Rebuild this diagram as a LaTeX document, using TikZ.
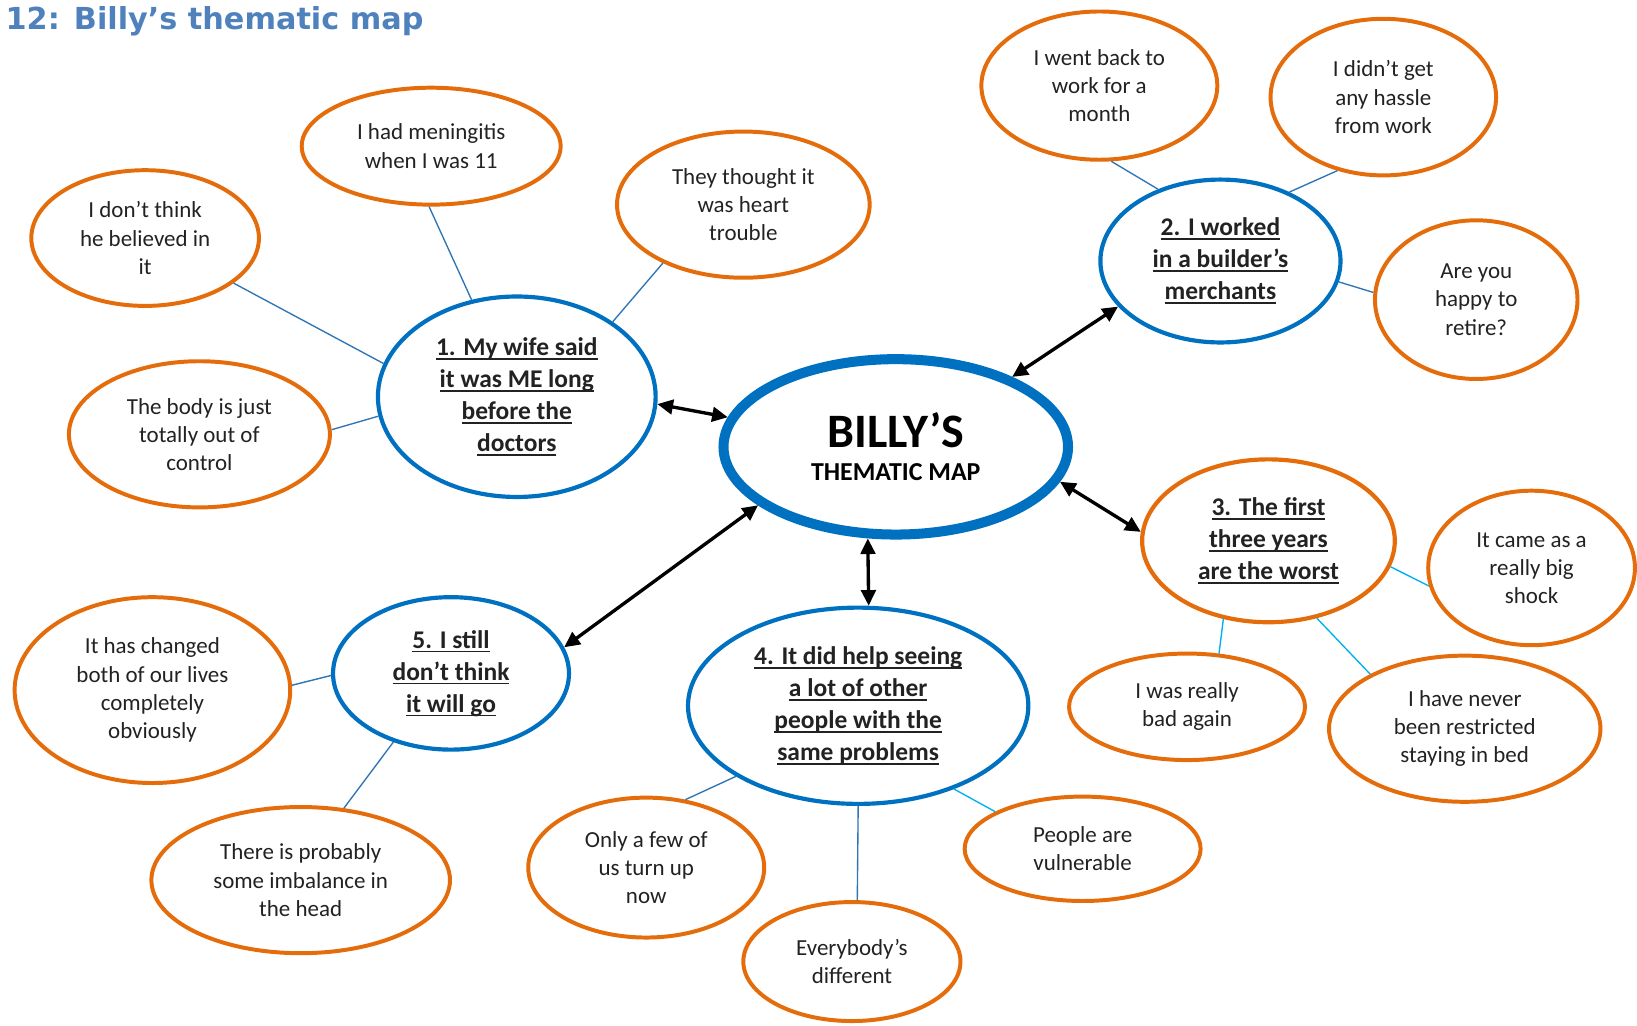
\documentclass[tikz,border=0pt]{standalone}
\usepackage{fontspec}
\setmainfont{Carlito}
\newfontfamily\titlefont{DejaVu Sans}
\usetikzlibrary{shapes.geometric}
\usetikzlibrary{arrows.meta}
\definecolor{mapblue}{HTML}{0070C0}
\definecolor{maporange}{HTML}{E46C0A}
\definecolor{spokeblue}{HTML}{2E75B6}
\definecolor{spokecyan}{HTML}{00B0F0}
\definecolor{titleblue}{HTML}{4F81BD}
\definecolor{inkgrey}{HTML}{222222}
\newcommand\ulw[1]{\setbox0\hbox{#1}\rlap{\rule[-2pt]{\wd0}{0.8pt}}\box0}

\begin{document}
\begin{tikzpicture}[x=0.5pt,y=-0.5pt,
  leaf/.style={draw=maporange,line width=1.9pt,ellipse,inner sep=0pt,align=center,text=inkgrey,font=\fontsize{11}{13.5}\selectfont},
  theme/.style={draw=mapblue,line width=2pt,ellipse,inner sep=0pt,align=center,text=inkgrey,font=\bfseries\fontsize{12.2}{15.3}\selectfont},
  hub/.style={draw=mapblue,line width=4.8pt,ellipse,inner sep=0pt,align=center,text=black},
  spoke/.style={draw=spokeblue,line width=0.65pt},
  spokec/.style={draw=spokecyan,line width=0.65pt},
  twoway/.style={line width=1.6pt,{Triangle[length=7.5pt,width=7pt]}-{Triangle[length=7.5pt,width=7pt]}}]
  \useasboundingbox (0,0) rectangle (1568,982);
  \node[anchor=base west,inner sep=0pt,text=titleblue,font=\titlefont\bfseries\fontsize{14.5}{17}\selectfont] (title) at (5,28) {12: Billy’s thematic map};
  % centre
  \node[hub,minimum width=165pt,minimum height=84pt] (0) at (858,428)
    {{\bfseries\fontsize{23}{26}\selectfont BILLY’S}\\[4pt]{\bfseries\fontsize{12.4}{14}\selectfont THEMATIC MAP}};
  % themes
  \node[theme,minimum width=133pt,minimum height=96pt] (1) at (495,380)
    {\ulw{1. My wife said}\\\ulw{it was ME long}\\\ulw{before the}\\\ulw{doctors}};
  \node[theme,minimum width=115pt,minimum height=78pt] (2) at (1169,250)
    {\ulw{2. I worked}\\\ulw{in a builder’s}\\\ulw{merchants}};
  \node[theme,draw=maporange,minimum width=121pt,minimum height=78pt] (3) at (1215,518)
    {\ulw{3. The first}\\\ulw{three years}\\\ulw{are the worst}};
  \node[theme,minimum width=163pt,minimum height=94pt] (4) at (822,676)
    {\ulw{4. It did help seeing}\\\ulw{a lot of other}\\\ulw{people with the}\\\ulw{same problems}};
  \node[theme,minimum width=113pt,minimum height=73pt] (5) at (432,645)
    {\ulw{5. I still}\\\ulw{don’t think}\\\ulw{it will go}};
  % leaves of 1
  \node[leaf,minimum width=124pt,minimum height=56pt] (1a) at (413,140) {I had meningitis\\when I was 11};
  \node[leaf,minimum width=109pt,minimum height=65pt] (1b) at (139,228) {I don’t think\\he believed in\\it};
  \node[leaf,minimum width=121pt,minimum height=70pt] (1c) at (712,196) {They thought it\\was heart\\trouble};
  \node[leaf,minimum width=125pt,minimum height=70pt] (1d) at (191,416) {The body is just\\totally out of\\control};
  % leaves of 2
  \node[leaf,minimum width=113pt,minimum height=71pt] (2a) at (1053,82) {I went back to\\work for a\\month};
  \node[leaf,minimum width=108pt,minimum height=75pt] (2b) at (1325,93) {I didn’t get\\any hassle\\from work};
  \node[leaf,minimum width=97pt,minimum height=76pt] (2c) at (1414,287) {Are you\\happy to\\retire?};
  % leaves of 3
  \node[leaf,minimum width=99pt,minimum height=74pt] (3a) at (1467,544) {It came as a\\really big\\shock};
  \node[leaf,minimum width=113pt,minimum height=51pt] (3b) at (1137,677) {I was really\\bad again};
  \node[leaf,minimum width=130pt,minimum height=70pt] (3c) at (1403,698) {I have never\\been restricted\\staying in bed};
  % leaves of 4
  \node[leaf,minimum width=113pt,minimum height=67pt] (4a) at (619,831) {Only a few of\\us turn up\\now};
  \node[leaf,minimum width=104pt,minimum height=57pt] (4b) at (816,921) {Everybody’s\\different};
  \node[leaf,minimum width=113pt,minimum height=50pt] (4c) at (1037,813) {People are\\vulnerable};
  % leaves of 5
  \node[leaf,minimum width=132pt,minimum height=89pt] (5a) at (146,661) {It has changed\\both of our lives\\completely\\obviously};
  \node[leaf,minimum width=143pt,minimum height=70pt] (5b) at (288,843) {There is probably\\some imbalance in\\the head};
  % spokes
  \draw[spoke](1.115)--(1a.268);
  \draw[spoke](1.166)--(1b.333);
  \draw[spoke](1.38)--(1c.216);
  \draw[spoke](1.188)--(1d.2);
  \draw[spoke](2.131)--(2a.279);
  \draw[spoke](2.45)--(2b.238);
  \draw[spoke](2.350)--(2c.176);
  \draw[spokec](3.348)--(3a.190);
  \draw[spokec](3.240)--(3b.59);
  \draw[spokec](3.302)--(3c.150);
  \draw[spoke](4.210)--(4a.60);
  \draw[spoke](4.270)--(4b.85);
  \draw[spokec](4.319)--(4c.157);
  \draw[spoke](5.181)--(5a.2);
  \draw[spoke](5.230)--(5b.59);
  % arrows to the centre
  \draw[twoway](0.170)--(1.357);
  \draw[twoway](0.31)--(2.204);
  \draw[twoway](0.348)--(3.176);
  \draw[twoway](0.253)--(4.84);
  \draw[twoway](0.203)--(5.13);
\end{tikzpicture}
\end{document}
